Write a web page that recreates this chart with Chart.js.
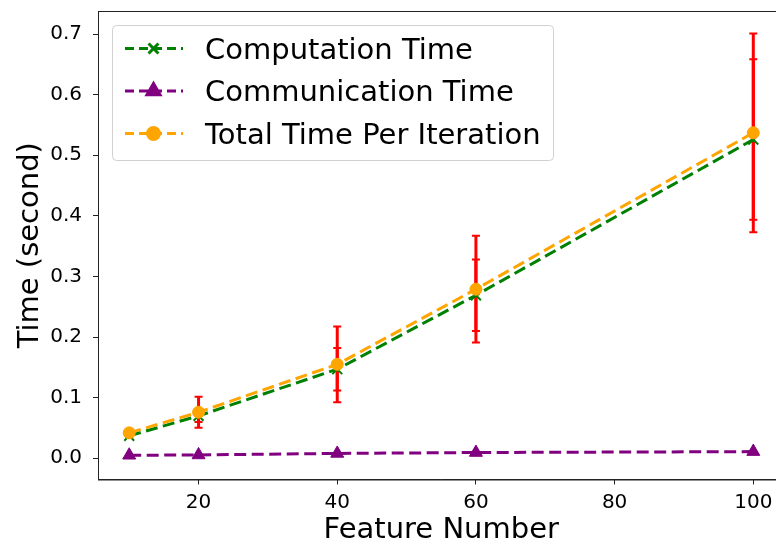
<!DOCTYPE html>
<html>
<head>
<meta charset="utf-8">
<script src="https://cdn.jsdelivr.net/npm/chart.js@4/dist/chart.umd.min.js"></script>
<style>
html,body{margin:0;padding:0;background:#fff;overflow:hidden;}
#wrap{position:relative;width:800px;height:545px;}
</style>
</head>
<body>
<div id="wrap"><canvas id="timeChart" width="800" height="545"></canvas></div>
<script>
// timing per iteration vs. number of features
const features=[10,20,40,60,100];
const computationTime=[0.037,0.070,0.147,0.269,0.526];
const communicationTime=[0.005,0.0055,0.008,0.0095,0.011];
const totalTime=[0.042,0.076,0.155,0.279,0.537];

// +/- spread drawn as red error bars
const computationErr=[0.003,0.010,0.035,0.059,0.1325];
const totalErr=[0.004,0.0255,0.0624,0.088,0.164];

const xTicks=[20,40,60,80,100];
const yTicks=[0,0.1,0.2,0.3,0.4,0.5,0.6,0.7];

const seriesNames=["Computation Time","Communication Time","Total Time Per Iteration"];

const FONT="'DejaVu Sans', sans-serif";
const DASH=[12,5.5];

function pts(ys){
return features.map((x,i)=>({x:x,y:ys[i]}));
}

const series=[
{label:seriesNames[0],data:pts(computationTime),color:"green",style:"crossRot",radius:7,order:3},
{label:seriesNames[1],data:pts(communicationTime),color:"purple",style:"triangle",radius:7.5,order:2},
{label:seriesNames[2],data:pts(totalTime),color:"orange",style:"circle",radius:6,order:1}
];

const datasets=series.map(s=>({
label:s.label,
data:s.data,
order:s.order,
borderColor:s.color,
backgroundColor:s.color,
borderWidth:3,
borderDash:DASH,
tension:0,
pointStyle:s.style,
pointRadius:s.radius,
pointBorderWidth:s.style==="crossRot"?2:1,
pointBorderColor:s.color,
pointBackgroundColor:s.color
}));

// red error bars with small caps, under the lines
const errorBars={
id:"errorBars",
beforeDatasetsDraw(chart){
const ctx=chart.ctx,xs=chart.scales.x,ys=chart.scales.y;
const groups=[[computationTime,computationErr],[totalTime,totalErr]];
ctx.save();
ctx.strokeStyle="red";
groups.forEach(([vals,errs])=>{
features.forEach((f,i)=>{
const px=xs.getPixelForValue(f);
const top=ys.getPixelForValue(vals[i]+errs[i]);
const bot=ys.getPixelForValue(vals[i]-errs[i]);
ctx.lineWidth=3;
ctx.beginPath();
ctx.moveTo(px,top);ctx.lineTo(px,bot);
ctx.stroke();
ctx.lineWidth=2;
ctx.beginPath();
ctx.moveTo(px-4,top);ctx.lineTo(px+4,top);
ctx.moveTo(px-4,bot);ctx.lineTo(px+4,bot);
ctx.stroke();
});
});
ctx.restore();
}
};

// full frame round the plot and the boxed legend in the upper left
const frameAndLegend={
id:"frameAndLegend",
afterDraw(chart){
const ctx=chart.ctx,a=chart.chartArea;
ctx.save();
ctx.strokeStyle="#222";
ctx.lineWidth=1;
ctx.strokeRect(a.left+0.5,a.top+0.5,a.right-a.left,a.bottom-a.top);

const bx=112.5,by=25.5,bw=441,bh=135,r=4;
ctx.beginPath();
ctx.moveTo(bx+r,by);
ctx.arcTo(bx+bw,by,bx+bw,by+bh,r);
ctx.arcTo(bx+bw,by+bh,bx,by+bh,r);
ctx.arcTo(bx,by+bh,bx,by,r);
ctx.arcTo(bx,by,bx+bw,by,r);
ctx.closePath();
ctx.fillStyle="rgba(255,255,255,0.8)";
ctx.fill();
ctx.strokeStyle="#d0d0d0";
ctx.stroke();

const rowY=[48.5,91,133.5];
series.forEach((s,i)=>{
const y=rowY[i];
ctx.strokeStyle=s.color;
ctx.lineWidth=3;
ctx.setLineDash([9,5]);
ctx.beginPath();
ctx.moveTo(125,y);ctx.lineTo(183,y);
ctx.stroke();
ctx.setLineDash([]);
ctx.fillStyle=s.color;
Chart.helpers.drawPoint(ctx,{
pointStyle:s.style,
radius:s.radius,
rotation:0,
borderWidth:s.style==="crossRot"?2:1
},153.5,y);
if(s.style!=="crossRot"){ctx.fill();}
ctx.fillStyle="#000";
ctx.font="29px "+FONT;
ctx.textBaseline="alphabetic";
ctx.textAlign="left";
ctx.fillText(s.label,205,y+10);
});
ctx.restore();
}
};

new Chart(document.getElementById("timeChart"),{
type:"line",
data:{datasets:datasets},
options:{
responsive:false,
animation:false,
layout:{padding:{left:0,top:11,right:15.5,bottom:0}},
plugins:{legend:{display:false},tooltip:{enabled:false}},
scales:{
x:{
type:"linear",
min:5.5,
max:104.5,
afterBuildTicks(axis){axis.ticks=xTicks.map(v=>({value:v}));},
afterFit(axis){axis.height=65.5;axis.paddingLeft=0;axis.paddingRight=0;},
grid:{drawOnChartArea:false,drawTicks:true,tickLength:5,color:"#222"},
border:{display:true,color:"#222",width:1},
ticks:{color:"#000",font:{family:FONT,size:20},padding:6,maxRotation:0},
title:{display:true,text:"Feature Number",color:"#000",font:{family:FONT,size:29,lineHeight:1},padding:{top:0,bottom:0}}
},
y:{
type:"linear",
min:-0.035,
max:0.738,
afterBuildTicks(axis){axis.ticks=yTicks.map(v=>({value:v}));},
afterFit(axis){axis.width=98;axis.paddingTop=0;axis.paddingBottom=0;},
grid:{drawOnChartArea:false,drawTicks:true,tickLength:5,color:"#222"},
border:{display:true,color:"#222",width:1},
ticks:{color:"#000",font:{family:FONT,size:20},padding:11,callback:v=>v.toFixed(1)},
title:{display:true,text:"Time (second)",color:"#000",font:{family:FONT,size:29},padding:{top:13,bottom:0}}
}
}
},
plugins:[errorBars,frameAndLegend]
});
</script>
</body>
</html>
